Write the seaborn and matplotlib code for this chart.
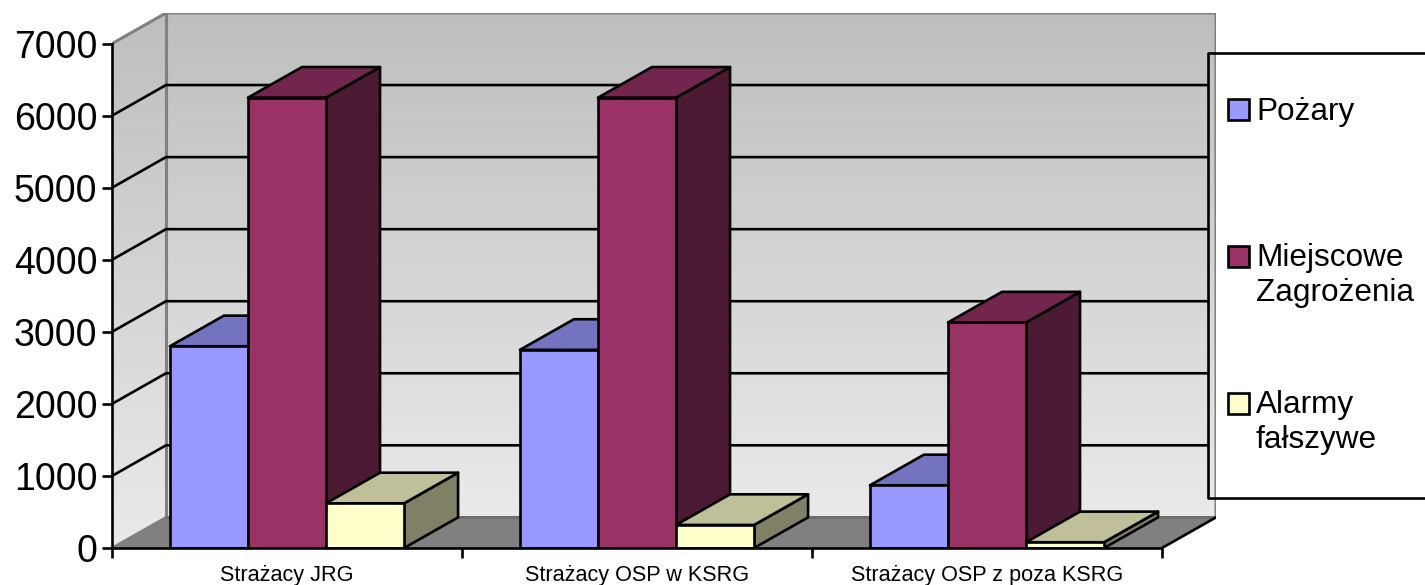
import numpy as np
import pandas as pd
import seaborn as sns
import matplotlib.pyplot as plt
from matplotlib.patches import Polygon, Rectangle
from matplotlib.lines import Line2D
from matplotlib.colors import LinearSegmentedColormap, to_rgb

kategorie = ['Strażacy JRG', 'Strażacy OSP w KSRG', 'Strażacy OSP z poza KSRG']
serie = ['Pożary', 'Miejscowe\nZagrożenia', 'Alarmy\nfałszywe']
pozary = [2800, 2750, 870]
miejscowe = [6250, 6250, 3130]
alarmy = [620, 320, 80]
kolory = ['#9999FF', '#993366', '#FFFFCC']
yticks = [0, 1000, 2000, 3000, 4000, 5000, 6000, 7000]

W, H = 1425, 585
LEFT, RIGHT, TOP, BOTTOM = 112, 1216, 13, 548   # plot box in pixels
CAT_PX = 350
DX = 54 / CAT_PX    # depth of the fake 3D, in data units
DY = 425
LW = 1.9

sns.set_style('white')
plt.rcParams['font.family'] = ['Liberation Sans', 'DejaVu Sans']
plt.rcParams['text.color'] = 'black'
plt.rcParams['xtick.labelcolor'] = 'black'
plt.rcParams['ytick.labelcolor'] = 'black'

df = pd.DataFrame({
    'kategoria': kategorie * 3,
    'seria': [s for s in serie for _ in kategorie],
    'wartosc': pozary + miejscowe + alarmy,
})

fig = plt.figure(figsize=(W / 100, H / 100), dpi=100)
ax = fig.add_axes([LEFT / W, 1 - BOTTOM / H, (RIGHT - LEFT) / W, (BOTTOM - TOP) / H])
ax.patch.set_alpha(0)

sns.barplot(data=df, x='kategoria', y='wartosc', hue='seria', order=kategorie, hue_order=serie,
            palette=kolory, saturation=1, width=0.669, gap=0, edgecolor='black', linewidth=LW,
            legend=False, ax=ax)

x0 = -0.5
x1 = x0 + (RIGHT - LEFT) / CAT_PX
x2 = x0 + 3
y1 = 7000 + DY

# walls with grey gradient
szary = LinearSegmentedColormap.from_list('sciana', ['#BEBEBE', '#EAEAEA'])
grad = np.linspace(0, 1, 256).reshape(-1, 1)
ax.imshow(grad, extent=(x0 + DX, x1, DY, y1), origin='upper', aspect='auto', cmap=szary, zorder=0)
left_wall = ax.imshow(grad, extent=(x0, x0 + DX, 0, y1), origin='upper', aspect='auto', cmap=szary, zorder=0)
clip_poly = Polygon([(x0, 0), (x0 + DX, DY), (x0 + DX, y1), (x0, 7000)], transform=ax.transData)
left_wall.set_clip_path(clip_poly)

# floor
ax.add_patch(Polygon([(x0, 0), (x0 + DX, DY), (x1, DY), (x2, 0)], fc='#808080', ec='none', zorder=1))
szare = '#808080'
ax.add_line(Line2D([x0, x0 + DX], [0, DY], color=szare, lw=LW, zorder=1.5))
ax.add_line(Line2D([x0, x0 + DX, x1, x1], [7000, y1, y1, DY], color=szare, lw=2.2, zorder=1.5))
ax.add_line(Line2D([x0 + DX, x0 + DX], [DY, y1], color=szare, lw=2.2, zorder=1.5))
ax.add_line(Line2D([x0 + DX, x1], [DY, DY], color='#6E6E6E', lw=2.2, zorder=1.5))
ax.add_line(Line2D([x2, x1], [0, DY], color='black', lw=LW, zorder=1.5))

# gridlines on both walls, they stop at the legend box
x_leg = x0 + (1208 - LEFT) / CAT_PX
for v in yticks[1:-1]:
    ax.add_line(Line2D([x0, x0 + DX, x_leg], [v, v + DY, v + DY], color='black', lw=LW, zorder=2))

# 3D faces for each bar, left to right so the nearer ones cover
paski = []
for c, kolor in zip(ax.containers, kolory):
    for p in c.patches:
        paski.append((p, kolor))
paski.sort(key=lambda t: t[0].get_x())
for i, (p, kolor) in enumerate(paski):
    x, w, h = p.get_x(), p.get_width(), p.get_height()
    z = 3 + i
    rgb = np.array(to_rgb(kolor))
    top = Polygon([(x, h), (x + DX, h + DY), (x + w + DX, h + DY), (x + w, h)],
                  fc=rgb * 0.75, ec='black', lw=LW, joinstyle='round', zorder=z)
    side = Polygon([(x + w, 0), (x + w + DX, DY), (x + w + DX, h + DY), (x + w, h)],
                   fc=rgb * 0.5, ec='black', lw=LW, joinstyle='round', zorder=z)
    ax.add_patch(side)
    ax.add_patch(top)
    p.set_zorder(z + 0.5)

ax.set_xlim(x0, x1)
ax.set_ylim(0, y1)
ax.set_xlabel('')
ax.set_ylabel('')
ax.set_yticks(yticks)
ax.set_xticks(range(len(kategorie)))
ax.set_xticklabels(kategorie)
ax.set_xticks([x0 + i for i in range(4)], minor=True)
ax.tick_params(axis='y', left=True, length=7.5, width=LW, pad=3, labelsize=27, color='black', labelcolor='black')
ax.tick_params(axis='x', which='major', bottom=False, pad=8.5, labelsize=15.6, labelcolor='black')
ax.tick_params(axis='x', which='minor', bottom=True, length=7.5, width=LW, color='black')
for s in ['top', 'right']:
    ax.spines[s].set_visible(False)
ax.spines['left'].set_bounds(0, 7000)
ax.spines['bottom'].set_bounds(x0, x2)
for s in ['left', 'bottom']:
    ax.spines[s].set_color('black')
    ax.spines[s].set_linewidth(LW)
    ax.spines[s].set_zorder(20)


def fx(px):
    return px / W


def fy(py):
    return 1 - py / H


# legend box runs off the right edge of the picture, no fill over the wall
fig.add_artist(Rectangle((fx(1216), fy(497)), fx(1426 - 1216), 444 / H, fc='white', ec='none', zorder=0.5))
fig.add_artist(Line2D([fx(1426), fx(1208), fx(1208), fx(1426)], [fy(53), fy(53), fy(498), fy(498)],
                      color='black', lw=LW))
for nazwa, kolor, y_box, y_txt in zip(serie, kolory, [99, 246, 393], [97, 243, 390]):
    fig.add_artist(Rectangle((fx(1228), fy(y_box + 21)), 21 / W, 21 / H, fc=kolor, ec='black', lw=LW))
    fig.text(fx(1256), fy(y_txt), nazwa, fontsize=22.7, color='black', va='top', ha='left', linespacing=1.2)

fig.savefig('out.png', dpi=100)
